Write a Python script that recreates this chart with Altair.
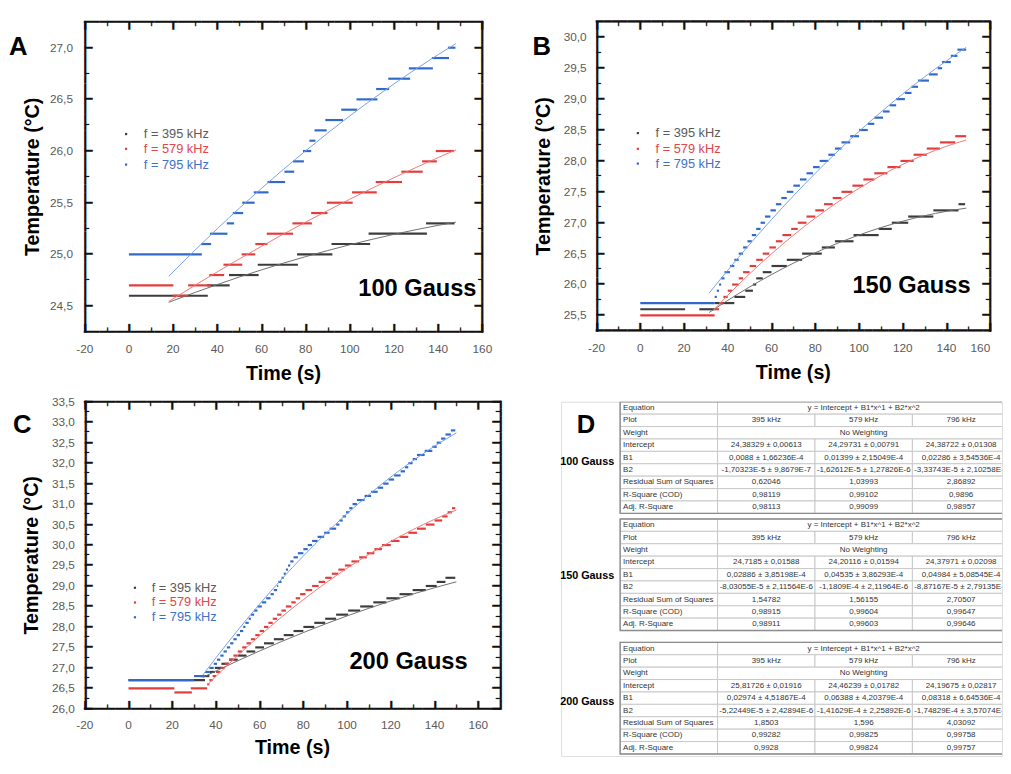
import math
import altair as alt
import pandas as pd

FONT = "Liberation Sans"
TABLE_FONT = "Liberation Sans Narrow, Liberation Sans"
MONO = "DejaVu Sans Mono"
MONO_ADV = 0.602          # advance width of a DejaVu Sans Mono glyph, in em
LINE = "\u2501"           # heavy horizontal box-drawing glyph
GRAY = "#5a5a5a"
INK = "#111111"

SERIES = ["395", "579", "795"]
STEP_COLORS = {"395": "#3c3c3c", "579": "#e23c3c", "795": "#3169c9"}
FIT_COLORS = {"395": "#6e6e6e", "579": "#f07878", "795": "#78a0e6"}
LEGEND_COLORS = {"395": "#5a5a5a", "579": "#e0474c", "795": "#3f72c9"}
LEGEND_LABELS = {"395": "f = 395 kHz", "579": "f = 579 kHz", "795": "f = 795 kHz"}

# ---------------- Panel A : 100 Gauss  (temperature level, t start, t end) ----------------
A_395 = [(24.6, 0, 35.7), (24.7, 35.4, 45.6), (24.8, 45.3, 58.7), (24.9, 58.3, 76.5),
         (25.0, 76.1, 92.1), (25.1, 91.7, 109.2), (25.2, 108.5, 134.9), (25.3, 134.5, 147.4)]
A_579 = [(24.7, 0, 20.1), (24.6, 19.7, 26.8), (24.7, 26.8, 37.2), (24.8, 36.4, 43.1),
         (24.9, 42.8, 51.3), (25.0, 51.0, 57.2), (25.1, 57.2, 62.7), (25.2, 62.4, 74.3),
         (25.3, 74.0, 82.8), (25.4, 82.5, 89.9), (25.5, 89.6, 101.3), (25.6, 101.0, 112.2),
         (25.7, 111.7, 123.6), (25.8, 123.3, 133.0), (25.9, 132.7, 139.4), (26.0, 138.9, 147.1)]
A_795 = [(25.0, 0, 33.0), (25.1, 32.7, 37.2), (25.2, 36.7, 44.6), (25.3, 44.3, 47.6),
         (25.4, 47.0, 51.7), (25.5, 51.3, 56.9), (25.6, 56.5, 63.2), (25.7, 62.7, 70.7),
         (25.8, 70.4, 74.8), (25.9, 74.3, 79.2), (26.0, 78.8, 82.5), (26.1, 81.7, 84.4),
         (26.2, 84.0, 89.5), (26.3, 88.9, 96.9), (26.4, 96.1, 103.3), (26.5, 103.0, 112.5),
         (26.6, 111.9, 117.8), (26.7, 117.4, 127.3), (26.8, 126.7, 137.6), (26.9, 137.1, 144.9),
         (27.0, 144.4, 147.8)]
A_FIT_395 = [(18, 24.536), (30, 24.632), (40, 24.708), (50, 24.781), (60, 24.850), (70, 24.916),
             (80, 24.978), (90, 25.037), (100, 25.093), (110, 25.145), (120, 25.194), (130, 25.239),
             (140, 25.281), (148, 25.312)]
A_FIT_579 = [(18, 24.544), (30, 24.702), (40, 24.831), (50, 24.956), (60, 25.078), (70, 25.197),
             (80, 25.312), (90, 25.424), (100, 25.534), (110, 25.639), (120, 25.742), (130, 25.841),
             (140, 25.937), (148, 26.011)]
A_FIT_795 = [(18, 24.788), (30, 25.043), (40, 25.248), (50, 25.447), (60, 25.638), (70, 25.824),
             (80, 26.002), (90, 26.174), (100, 26.340), (110, 26.498), (120, 26.650), (130, 26.795),
             (140, 26.933), (148, 27.039)]

# ---------------- Panel B : 150 Gauss ----------------
B_395 = [(25.6, 0, 20.5), (25.6, 27, 34), (25.7, 34, 43), (25.8, 43, 48), (25.9, 48, 51.5),
         (26.0, 51.5, 53), (26.1, 53, 56), (26.2, 56, 60), (26.3, 60, 67), (26.4, 67, 74),
         (26.5, 74, 83), (26.6, 83, 89), (26.7, 89, 97.5), (26.8, 97.5, 109), (26.9, 109, 115),
         (27.0, 115, 122.5), (27.1, 122.5, 134), (27.2, 134, 145.5), (27.3, 145.5, 148.5)]
B_579 = [(25.5, 0, 34), (25.6, 34, 36), (25.7, 36, 38), (25.8, 38, 40), (25.9, 40, 42),
         (26.0, 42, 45), (26.1, 45, 47), (26.2, 47, 50), (26.3, 50, 53), (26.4, 53, 56),
         (26.5, 56, 59), (26.6, 59, 62), (26.7, 62, 65), (26.8, 65, 69), (26.9, 69, 72),
         (27.0, 72, 76), (27.1, 76, 80), (27.2, 80, 84), (27.3, 84, 88), (27.4, 88, 92),
         (27.5, 92, 97), (27.6, 97, 102), (27.7, 102, 107), (27.8, 107, 113), (27.9, 113, 119),
         (28.0, 119, 125), (28.1, 125, 131), (28.2, 131, 137), (28.3, 137, 144), (28.4, 144, 149)]
B_795 = [(25.7, 0, 34), (25.8, 34, 35), (25.9, 35, 36), (26.0, 36, 37), (26.1, 37, 38.5),
         (26.2, 38.5, 41), (26.3, 41, 43), (26.4, 43, 45), (26.5, 45, 47), (26.6, 47, 49),
         (26.7, 49, 51), (26.8, 51, 53), (26.9, 53, 55), (27.0, 55, 57), (27.1, 57, 59.5),
         (27.2, 59.5, 62), (27.3, 62, 64.5), (27.4, 64.5, 67), (27.5, 67, 70), (27.6, 70, 73),
         (27.7, 73, 76), (27.8, 76, 79), (27.9, 79, 82), (28.0, 82, 86), (28.1, 86, 89),
         (28.2, 89, 92), (28.3, 92, 96), (28.4, 96, 100), (28.5, 100, 104), (28.6, 104, 107),
         (28.7, 107, 111), (28.8, 111, 114), (28.9, 114, 117), (29.0, 117, 121), (29.1, 121, 124),
         (29.2, 124, 127), (29.3, 127, 132), (29.4, 132, 136), (29.5, 136, 138), (29.6, 138, 142),
         (29.7, 142, 145), (29.8, 145, 149)]
B_FIT_395 = [(31.5, 25.548), (40, 25.744), (50, 25.961), (60, 26.161), (70, 26.345), (80, 26.513),
             (90, 26.665), (100, 26.801), (110, 26.921), (120, 27.025), (130, 27.113), (140, 27.185),
             (149, 27.236)]
B_FIT_579 = [(33.5, 25.588), (40, 25.826), (50, 26.174), (60, 26.497), (70, 26.797), (80, 27.074),
             (90, 27.327), (100, 27.556), (110, 27.762), (120, 27.944), (130, 28.102), (140, 28.237),
             (149, 28.338)]
B_FIT_795 = [(31.5, 25.862), (40, 26.231), (50, 26.650), (60, 27.051), (70, 27.434), (80, 27.799),
             (90, 28.147), (100, 28.477), (110, 28.789), (120, 29.083), (130, 29.360), (140, 29.619),
             (149, 29.837)]

# ---------------- Panel C : 200 Gauss ----------------
C_395 = [(26.7, 0, 35), (26.8, 33, 37), (26.9, 37, 39.5), (27.0, 39.5, 42.5), (27.1, 42.5, 46),
         (27.2, 46, 50), (27.3, 50, 54), (27.4, 54, 58), (27.5, 58, 62), (27.6, 62, 66.5),
         (27.7, 66.5, 71), (27.8, 71, 75.5), (27.9, 75.5, 80), (28.0, 80, 85), (28.1, 85, 90),
         (28.2, 90, 95), (28.3, 95, 100.5), (28.4, 100.5, 106), (28.5, 106, 112), (28.6, 112, 118),
         (28.7, 118, 124), (28.8, 124, 130), (28.9, 130, 136), (29.0, 136, 141), (29.1, 141, 145),
         (29.2, 145, 149.5)]
C_579 = [(26.5, 0, 21), (26.4, 21, 29), (26.5, 28.5, 36), (26.6, 36, 37), (26.7, 37, 38.5),
         (26.8, 38.5, 40), (26.9, 40, 42), (27.0, 42, 44), (27.1, 44, 46), (27.2, 46, 48),
         (27.3, 48, 50), (27.4, 50, 52), (27.5, 52, 54), (27.6, 54, 56), (27.7, 56, 58),
         (27.8, 58, 60), (27.9, 60, 62), (28.0, 62, 64), (28.1, 64, 66), (28.2, 66, 68),
         (28.3, 68, 70), (28.4, 70, 72), (28.5, 72, 74.5), (28.6, 74.5, 76.5), (28.7, 76.5, 78.5),
         (28.8, 78.5, 81), (28.9, 81, 84), (29.0, 84, 87), (29.1, 87, 90), (29.2, 90, 93),
         (29.3, 93, 96), (29.4, 96, 99), (29.5, 99, 102), (29.6, 102, 105.5), (29.7, 105.5, 109),
         (29.8, 109, 112.5), (29.9, 112.5, 116), (30.0, 116, 120), (30.1, 120, 124), (30.2, 124, 128),
         (30.3, 128, 132), (30.4, 132, 136), (30.5, 136, 140), (30.6, 140, 143.5), (30.7, 143.5, 146),
         (30.8, 146, 148), (30.9, 148, 149.5)]
C_795 = [(26.7, 0, 30), (26.8, 30, 35), (26.9, 35, 37), (27.0, 37, 39), (27.1, 39, 40.5),
         (27.2, 40.5, 42), (27.3, 42, 43.5), (27.4, 43.5, 45), (27.5, 45, 46.5), (27.6, 46.5, 48),
         (27.7, 48, 49.5), (27.8, 49.5, 51), (27.9, 51, 52.5), (28.0, 52.5, 53.5), (28.1, 53.5, 55),
         (28.2, 55, 56), (28.3, 56, 57.5), (28.4, 57.5, 59), (28.5, 59, 61), (28.6, 61, 63),
         (28.7, 63, 65), (28.8, 65, 66.5), (28.9, 66.5, 68), (29.0, 68, 68.5), (29.1, 68.5, 70),
         (29.2, 70, 71), (29.3, 71, 72), (29.4, 72, 73), (29.5, 73, 74), (29.6, 74, 75.5),
         (29.7, 75.5, 77.5), (29.8, 77.5, 80), (29.9, 80, 82), (30.0, 82, 84), (30.1, 84, 86.5),
         (30.2, 86.5, 89.5), (30.3, 89.5, 92), (30.4, 92, 95), (30.5, 95, 96.5), (30.6, 96.5, 98),
         (30.7, 98, 99.5), (30.8, 99.5, 101), (30.9, 101, 102.5), (31.0, 102.5, 104.5),
         (31.1, 104.5, 108), (31.2, 108, 111), (31.3, 111, 114), (31.4, 114, 116.5),
         (31.5, 116.5, 119), (31.6, 119, 121.5), (31.7, 121.5, 124.5), (31.8, 124.5, 126.5),
         (31.9, 126.5, 128), (32.0, 128, 130), (32.1, 130, 132), (32.2, 132, 135.5),
         (32.3, 135.5, 139), (32.4, 139, 141), (32.5, 141, 143), (32.6, 143, 145),
         (32.7, 145, 147.5), (32.8, 147.5, 149.5)]
C_FIT_395 = [(34, 26.768), (40, 26.923), (50, 27.174), (60, 27.413), (70, 27.643), (80, 27.862),
             (90, 28.071), (100, 28.269), (110, 28.456), (120, 28.634), (130, 28.801), (140, 28.957),
             (150, 29.103)]
C_FIT_579 = [(36, 26.578), (40, 26.791), (50, 27.302), (60, 27.785), (70, 28.240), (80, 28.666),
             (90, 29.064), (100, 29.434), (110, 29.775), (120, 30.088), (130, 30.373), (140, 30.629),
             (150, 30.857)]
C_FIT_795 = [(34, 26.823), (40, 27.244), (50, 27.919), (60, 28.558), (70, 29.163), (80, 29.732),
             (90, 30.267), (100, 30.767), (110, 31.231), (120, 31.661), (130, 32.056), (140, 32.416),
             (150, 32.740)]

# ---------------- Axis tick values / tick labels ----------------
X_MAJOR = [-20, 0, 20, 40, 60, 80, 100, 120, 140, 160]
X_MINOR = [-10, 10, 30, 50, 70, 90, 110, 130, 150]
X_LABELS = ["-20", "0", "20", "40", "60", "80", "100", "120", "140", "160"]
Y_MAJOR_A = [24.5, 25.0, 25.5, 26.0, 26.5, 27.0]
Y_MINOR_A = [24.75, 25.25, 25.75, 26.25, 26.75]
Y_LABELS_A = ["24,5", "25,0", "25,5", "26,0", "26,5", "27,0"]
Y_MAJOR_B = [25.5, 26.0, 26.5, 27.0, 27.5, 28.0, 28.5, 29.0, 29.5, 30.0]
Y_MINOR_B = [25.75, 26.25, 26.75, 27.25, 27.75, 28.25, 28.75, 29.25, 29.75]
Y_LABELS_B = ["25,5", "26,0", "26,5", "27,0", "27,5", "28,0", "28,5", "29,0", "29,5", "30,0"]
Y_MAJOR_C = [26.0, 26.5, 27.0, 27.5, 28.0, 28.5, 29.0, 29.5, 30.0, 30.5, 31.0, 31.5, 32.0,
             32.5, 33.0, 33.5]
Y_MINOR_C = [26.25, 26.75, 27.25, 27.75, 28.25, 28.75, 29.25, 29.75, 30.25, 30.75, 31.25,
             31.75, 32.25, 32.75, 33.25]
Y_LABELS_C = ["26,0", "26,5", "27,0", "27,5", "28,0", "28,5", "29,0", "29,5", "30,0", "30,5",
              "31,0", "31,5", "32,0", "32,5", "33,0", "33,5"]

# ---------------- Panel D : fit tables ----------------
GAUSS = [100, 150, 200]
ROW_LABELS = ["Equation", "Plot", "Weight", "Intercept", "B1", "B2",
              "Residual Sum of Squares", "R-Square (COD)", "Adj. R-Square"]
EQUATION = "y = Intercept + B1*x^1 + B2*x^2"
PLOT_NAMES = ["395 kHz", "579 kHz", "796 kHz"]
WEIGHT = "No Weighting"
INTERCEPT = {100: ["24,38329 ± 0,00613", "24,29731 ± 0,00791", "24,38722 ± 0,01308"],
             150: ["24,7185 ± 0,01588", "24,20116 ± 0,01594", "24,37971 ± 0,02098"],
             200: ["25,81726 ± 0,01916", "24,46239 ± 0,01782", "24,19675 ± 0,02817"]}
B1 = {100: ["0,0088 ± 1,66236E-4", "0,01399 ± 2,15049E-4", "0,02286 ± 3,54536E-4"],
      150: ["0,02886 ± 3,85198E-4", "0,04535 ± 3,86293E-4", "0,04984 ± 5,08545E-4"],
      200: ["0,02974 ± 4,51867E-4", "0,06388 ± 4,20379E-4", "0,08318 ± 6,64536E-4"]}
B2 = {100: ["-1,70323E-5 ± 9,8679E-7", "-1,62612E-5 ± 1,27826E-6", "-3,33743E-5 ± 2,10258E-6"],
      150: ["-8,03055E-5 ± 2,11564E-6", "-1,1809E-4 ± 2,11964E-6", "-8,87167E-5 ± 2,79135E-6"],
      200: ["-5,22449E-5 ± 2,42894E-6", "-1,41629E-4 ± 2,25892E-6", "-1,74829E-4 ± 3,57074E-6"]}
RSS = {100: ["0,62046", "1,03993", "2,86892"],
       150: ["1,54782", "1,56155", "2,70507"],
       200: ["1,8503", "1,596", "4,03092"]}
R2 = {100: ["0,98119", "0,99102", "0,9896"],
      150: ["0,98915", "0,99604", "0,99647"],
      200: ["0,99282", "0,99825", "0,99758"]}
ADJ_R2 = {100: ["0,98113", "0,99099", "0,98957"],
          150: ["0,98911", "0,99603", "0,99646"],
          200: ["0,9928", "0,99824", "0,99757"]}
TABLE_TOP = [0, 9.45, 19.4]   # row offsets of the three tables

ONE = pd.DataFrame({"k": [0]})


def steps_df(rows):
    return pd.DataFrame(rows, columns=["T", "t0", "t1"])


def fit_df(rows):
    return pd.DataFrame(rows, columns=["t", "T"])


def txt(x, y, text, font=FONT, **kw):
    return alt.Chart(ONE).mark_text(text=text, font=font, **kw).encode(
        x=alt.value(x), y=alt.value(y))


def dot(x, y, color):
    return alt.Chart(ONE).mark_square(size=5, color=color, opacity=1).encode(
        x=alt.value(x), y=alt.value(y))


def glyph_line(length):
    """A run of heavy box-drawing glyphs whose total advance equals `length` px."""
    n = max(1, int(round(length / 8.0)))
    return LINE * n, length / (n * MONO_ADV)


def make_panel(steps, fits, xdom, xmin, ydom, ymaj, ymin, ylabels, w, h,
               letter, letter_xy, gauss, gauss_xy, legend_x, legend_y,
               xlab_y, xtitle_y, ylab_x, ytitle_x, last_right=False):
    xs = alt.Scale(domain=xdom, nice=False, zero=False)
    ys = alt.Scale(domain=ydom, nice=False, zero=False)

    def X(field):
        return alt.X(field, scale=xs, axis=None)

    def Y(field):
        return alt.Y(field, scale=ys, axis=None)

    layers = []
    # ---- data ----
    for s in SERIES:
        layers.append(
            alt.Chart(steps_df(steps[s])).mark_rule(color=STEP_COLORS[s], strokeWidth=2.2)
            .encode(x=X("t0:Q"), x2="t1:Q", y=Y("T:Q")))
    for s in SERIES:
        layers.append(
            alt.Chart(fit_df(fits[s])).mark_line(color=FIT_COLORS[s], strokeWidth=1,
                                                 interpolate="monotone")
            .encode(x=X("t:Q"), y=Y("T:Q")))
    # ---- plot frame, drawn with box-drawing glyph runs ----
    hs, hfs = glyph_line(w + 2)
    vs, vfs = glyph_line(h + 2)
    gkw = dict(font=MONO, align="center", baseline="middle", color=INK)
    layers.append(txt(w / 2, 0, hs, fontSize=hfs, **gkw))
    layers.append(txt(w / 2, h, hs, fontSize=hfs, **gkw))
    layers.append(txt(0, h / 2, vs, fontSize=vfs, angle=90, **gkw))
    layers.append(txt(w, h / 2, vs, fontSize=vfs, angle=90, **gkw))
    # ---- inward ticks (major 8 px, minor 4.5 px) ----
    for vals, L in ((X_MAJOR, 8), (xmin, 4.5)):
        df = pd.DataFrame({"v": vals})
        for ypix in (h - L / 2, L / 2):
            layers.append(alt.Chart(df).mark_text(text=LINE, fontSize=L / MONO_ADV, angle=90,
                                                  **gkw)
                          .encode(x=X("v:Q"), y=alt.value(ypix)))
    for vals, L in ((ymaj, 8), (ymin, 4.5)):
        df = pd.DataFrame({"v": vals})
        for xpix in (L / 2, w - L / 2):
            layers.append(alt.Chart(df).mark_text(text=LINE, fontSize=L / MONO_ADV, **gkw)
                          .encode(y=Y("v:Q"), x=alt.value(xpix)))
    # ---- tick labels ----
    xl = pd.DataFrame({"v": X_MAJOR, "lab": X_LABELS})
    if last_right:
        xl_c, xl_r = xl[xl.v < 160], xl[xl.v >= 160]
    else:
        xl_c, xl_r = xl, xl.iloc[0:0]
    lab_kw = dict(font=FONT, fontSize=12, color=GRAY, baseline="middle")
    layers.append(alt.Chart(xl_c).mark_text(align="center", **lab_kw).encode(
        x=X("v:Q"), y=alt.value(xlab_y), text="lab:N"))
    if len(xl_r):
        layers.append(alt.Chart(xl_r).mark_text(align="right", **lab_kw).encode(
            x=X("v:Q"), y=alt.value(xlab_y), text="lab:N"))
    yl = pd.DataFrame({"v": ymaj, "lab": ylabels})
    layers.append(alt.Chart(yl).mark_text(align="right", **lab_kw).encode(
        y=Y("v:Q"), x=alt.value(ylab_x), text="lab:N"))
    # ---- axis titles, panel letter, field label, legend ----
    layers.append(txt(w / 2, xtitle_y, "Time (s)", fontSize=20, fontWeight="bold",
                      align="center", baseline="middle", color="black"))
    layers.append(txt(ytitle_x, h / 2, "Temperature (°C)", fontSize=20, fontWeight="bold",
                      align="center", baseline="middle", angle=270, color="black"))
    layers.append(txt(letter_xy[0], letter_xy[1], letter, fontSize=26, fontWeight="bold",
                      align="left", baseline="alphabetic", color="black"))
    layers.append(txt(gauss_xy[0], gauss_xy[1], gauss, fontSize=24, fontWeight="bold",
                      align="right", baseline="alphabetic", color="black"))
    for s, yy in zip(SERIES, legend_y):
        layers.append(dot(legend_x[0], yy, STEP_COLORS[s]))
        layers.append(txt(legend_x[1], yy, LEGEND_LABELS[s], fontSize=13, align="left",
                          baseline="middle", color=LEGEND_COLORS[s]))
    return alt.layer(*layers).properties(width=w, height=h)


panel_a = make_panel({"395": A_395, "579": A_579, "795": A_795},
                     {"395": A_FIT_395, "579": A_FIT_579, "795": A_FIT_795},
                     [-20, 160], X_MINOR, [24.25, 27.25], Y_MAJOR_A, Y_MINOR_A, Y_LABELS_A,
                     404, 315, "A", (-77, 34), "100 Gauss", (398, 279),
                     (42, 60), (114, 129, 145), 332, 358, -12, -53)
panel_b = make_panel({"395": B_395, "579": B_579, "795": B_795},
                     {"395": B_FIT_395, "579": B_FIT_579, "795": B_FIT_795},
                     [-20, 160], X_MINOR, [25.25, 30.25], Y_MAJOR_B, Y_MINOR_B, Y_LABELS_B,
                     400, 314, "B", (-65, 34), "150 Gauss", (380, 275),
                     (42, 60), (113, 129, 144), 331, 357, -10, -53, last_right=True)
panel_c = make_panel({"395": C_395, "579": C_579, "795": C_795},
                     {"395": C_FIT_395, "579": C_FIT_579, "795": C_FIT_795},
                     [-20, 170], X_MINOR, [26.0, 33.5], Y_MAJOR_C, Y_MINOR_C, Y_LABELS_C,
                     422, 312, "C", (-73, 32), "200 Gauss", (389, 272),
                     (51, 68), (189, 204, 219), 328, 352, -10, -54)

# ---------------- Build the table panel ----------------
cells, labels, values, borders = [], [], [], []
for k, g in enumerate(GAUSS):
    top = TABLE_TOP[k]
    borders.append({"x0": 0, "x1": 4, "y0": top, "y1": top + 9})
    data_rows = [None, PLOT_NAMES, None, INTERCEPT[g], B1[g], B2[g], RSS[g], R2[g], ADJ_R2[g]]
    for r, lab in enumerate(ROW_LABELS):
        y0, y1 = top + r, top + r + 1
        cells.append({"x0": 0, "x1": 1, "y0": y0, "y1": y1})
        labels.append({"x": 0, "y": y0 + 0.5, "text": lab})
        if r == 0 or r == 2:
            cells.append({"x0": 1, "x1": 4, "y0": y0, "y1": y1})
            values.append({"x": 2.5, "y": y0 + 0.5, "text": EQUATION if r == 0 else WEIGHT})
        else:
            for c in range(3):
                cells.append({"x0": 1 + c, "x1": 2 + c, "y0": y0, "y1": y1})
                values.append({"x": 1.5 + c, "y": y0 + 0.5, "text": data_rows[r][c]})

D_W, D_H = 448, 360
dx = alt.Scale(domain=[-0.606, 3.92], nice=False, zero=False)
dy = alt.Scale(domain=[0, 28.57], nice=False, zero=False, reverse=True)
TFS = 8.1
cell_layer = alt.Chart(pd.DataFrame(cells)).mark_rect(
    fill="white", stroke="#c8c8c8", strokeWidth=1, clip=True).encode(
    x=alt.X("x0:Q", scale=dx, axis=None), x2="x1:Q",
    y=alt.Y("y0:Q", scale=dy, axis=None), y2="y1:Q")
border_layer = alt.Chart(pd.DataFrame(borders)).mark_rect(
    fill="transparent", stroke="#8c8c8c", strokeWidth=1.4, clip=True).encode(
    x=alt.X("x0:Q", scale=dx, axis=None), x2="x1:Q",
    y=alt.Y("y0:Q", scale=dy, axis=None), y2="y1:Q")
label_layer = alt.Chart(pd.DataFrame(labels)).mark_text(
    align="left", baseline="middle", dx=3, font=TABLE_FONT, fontSize=TFS,
    color="#333333").encode(
    x=alt.X("x:Q", scale=dx, axis=None), y=alt.Y("y:Q", scale=dy, axis=None), text="text:N")
value_layer = alt.Chart(pd.DataFrame(values)).mark_text(
    align="center", baseline="middle", font=TABLE_FONT, fontSize=TFS, color="#333333",
    clip=True).encode(
    x=alt.X("x:Q", scale=dx, axis=None), y=alt.Y("y:Q", scale=dy, axis=None), text="text:N")
d_layers = [cell_layer, border_layer, label_layer, value_layer,
            txt(16, 32, "D", fontSize=26, fontWeight="bold", align="left",
                baseline="alphabetic", color="black")]
for g, yy in zip(GAUSS, (61, 177, 305)):
    d_layers.append(txt(54, yy, f"{g} Gauss", fontSize=11, fontWeight="bold",
                        align="right", baseline="middle", color="black"))
panel_d = alt.layer(*d_layers).properties(width=D_W, height=D_H)

row1 = alt.hconcat(panel_a, panel_b, spacing=39)
row2 = alt.hconcat(panel_c, panel_d, spacing=52)
chart = (alt.vconcat(row1, row2, spacing=9)
         .properties(padding=0)
         .configure_view(strokeWidth=0)
         .configure(font=FONT))

chart.save("out.html", embed_options={"renderer": "svg", "actions": False})
